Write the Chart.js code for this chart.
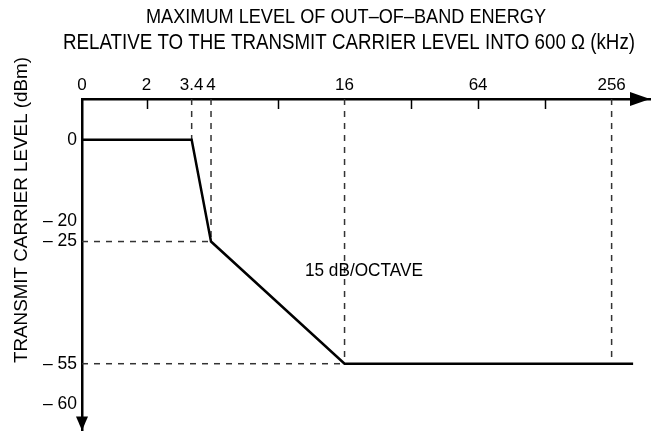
<!DOCTYPE html>
<html>
<head>
<meta charset="utf-8">
<script src="https://cdn.jsdelivr.net/npm/chart.js@4.4.0/dist/chart.umd.min.js"></script>
<style>
  html, body { margin: 0; padding: 0; background: #fff; }
  #wrap { width: 652px; height: 446px; }
</style>
</head>
<body>
<div id="wrap"><canvas id="maskChart"></canvas></div>
<script>
// mask: frequency (kHz) and level (dBm)
const maskFreq = [0, 3.4, 4, 16, 320];
const maskLevel = [0, 0, -25, -55, -55];

// vertical dashed guides: frequency, and the level where each one stops
const guideFreq = [3.4, 4, 16, 256];
const guideFreqLevel = [0, -25, -55, -55];
// horizontal dashed guides: level, and the frequency where each one stops
const guideLevel = [-25, -55];
const guideLevelFreq = [4, 16];

const xTickValues = [0, 2, 3.4, 4, 8, 16, 32, 64, 128, 256];
const xTickLabels = ['0', '2', '3.4', '4', '', '16', '', '64', '', '256'];
const xTickMarks = [2, 8, 32, 64, 128];

const yTickValues = [0, -20, -25, -55, -60];
const yTickLabels = ['0', '\u2013 20', '\u2013 25', '\u2013 55', '\u2013 60'];

const titleLines = ['MAXIMUM LEVEL OF OUT\u2013OF\u2013BAND ENERGY',
                    'RELATIVE TO THE TRANSMIT CARRIER LEVEL INTO 600 \u03A9 (kHz)'];
const yTitle = 'TRANSMIT CARRIER LEVEL (dBm)';
const slopeNote = '15 dB/OCTAVE';

const FONT = "'Liberation Sans', Arial, Helvetica, sans-serif";

// x axis is linear up to 4 kHz, then logarithmic (one octave = 2.07 units)
const fx = v => v <= 4 ? v : 4 + 2.07 * Math.log2(v / 4);
// the axis is drawn stretched below -55 dBm
const fy = v => v >= -55 ? v : -55 + (v + 55) * 2;

const datasets = [{
    data: maskFreq.map((f, i) => ({ x: fx(f), y: fy(maskLevel[i]) })),
    borderColor: '#000',
    borderWidth: 2.5,
    pointRadius: 0,
    showLine: true
}];

guideFreq.forEach((f, i) => {
    datasets.push({
        data: [{ x: fx(f), y: 10 }, { x: fx(f), y: fy(guideFreqLevel[i]) }],
        borderColor: '#333',
        borderWidth: 1.5,
        borderDash: [6, 6],
        pointRadius: 0,
        showLine: true
    });
});
guideLevel.forEach((l, i) => {
    datasets.push({
        data: [{ x: 0, y: fy(l) }, { x: fx(guideLevelFreq[i]), y: fy(l) }],
        borderColor: '#333',
        borderWidth: 1.5,
        borderDash: [6, 6],
        pointRadius: 0,
        showLine: true
    });
});

// write text squeezed horizontally so it spans `width` px (narrow face look)
function squeezedText(ctx, text, x, y, width, align) {
    const sx = width / ctx.measureText(text).width;
    ctx.save();
    ctx.translate(x, y);
    ctx.scale(Math.min(sx, 1.1), 1);
    ctx.textAlign = align;
    ctx.fillText(text, 0, 0);
    ctx.restore();
}

// titles, inward tick marks, arrow heads, slope note
const decorations = {
    id: 'decorations',
    afterDraw(chart) {
        const ctx = chart.ctx;
        const { left, right, top, bottom } = chart.chartArea;
        const xs = chart.scales.x, ys = chart.scales.y;
        ctx.save();
        ctx.fillStyle = '#000';
        ctx.strokeStyle = '#000';

        // tick marks pointing into the plot
        ctx.lineWidth = 1.5;
        xTickMarks.forEach(v => {
            const px = Math.round(xs.getPixelForValue(fx(v))) + 0.5;
            ctx.beginPath();
            ctx.moveTo(px, top);
            ctx.lineTo(px, top + 10);
            ctx.stroke();
        });

        // arrow heads
        ctx.beginPath();
        ctx.moveTo(right - 20, top - 7);
        ctx.lineTo(right, top);
        ctx.lineTo(right - 20, top + 7);
        ctx.closePath();
        ctx.fill();
        ctx.beginPath();
        ctx.moveTo(left - 6, bottom - 14);
        ctx.lineTo(left, bottom);
        ctx.lineTo(left + 6, bottom - 14);
        ctx.closePath();
        ctx.fill();

        // chart title, narrow face
        ctx.textBaseline = 'middle';
        ctx.font = '21px ' + FONT;
        squeezedText(ctx, titleLines[0], 346, 17, 400, 'center');
        ctx.font = '22px ' + FONT;
        squeezedText(ctx, titleLines[1], 349, 43, 572, 'center');

        // slope note
        ctx.font = '18px ' + FONT;
        squeezedText(ctx, slopeNote, xs.getPixelForValue(fx(10.6)), ys.getPixelForValue(-32.3), 118, 'left');

        // y axis title
        ctx.font = '19px ' + FONT;
        ctx.translate(22, 210);
        ctx.rotate(-Math.PI / 2);
        squeezedText(ctx, yTitle, 0, 0, 306, 'center');
        ctx.restore();
    }
};

new Chart(document.getElementById('maskChart'), {
    type: 'scatter',
    data: { datasets: datasets },
    plugins: [decorations],
    options: {
        responsive: true,
        maintainAspectRatio: false,
        animation: false,
        layout: { padding: { top: 69, left: 0, right: 2, bottom: 1 } },
        plugins: {
            legend: { display: false },
            tooltip: { enabled: false }
        },
        scales: {
            x: {
                type: 'linear',
                position: 'top',
                min: 0,
                max: 17.61,
                afterBuildTicks: s => { s.ticks = xTickValues.map(v => ({ value: fx(v) })); },
                afterFit: s => { s.height = 30; },
                ticks: {
                    autoSkip: false,
                    maxRotation: 0,
                    padding: 3,
                    color: '#000',
                    font: { family: FONT, size: 17 },
                    callback: (val, i) => xTickLabels[i]
                },
                grid: { display: false, drawTicks: false },
                border: { display: true, color: '#000', width: 2.5 }
            },
            y: {
                type: 'linear',
                min: -71.4,
                max: 10,
                afterBuildTicks: s => { s.ticks = yTickValues.map(v => ({ value: fy(v) })); },
                afterFit: s => { s.width = 82; },
                ticks: {
                    autoSkip: false,
                    padding: 5,
                    color: '#000',
                    font: { family: FONT, size: 17.5 },
                    callback: (val, i) => yTickLabels[i]
                },
                grid: { display: false, drawTicks: false },
                border: { display: true, color: '#000', width: 2.5 }
            }
        }
    }
});
</script>
</body>
</html>
